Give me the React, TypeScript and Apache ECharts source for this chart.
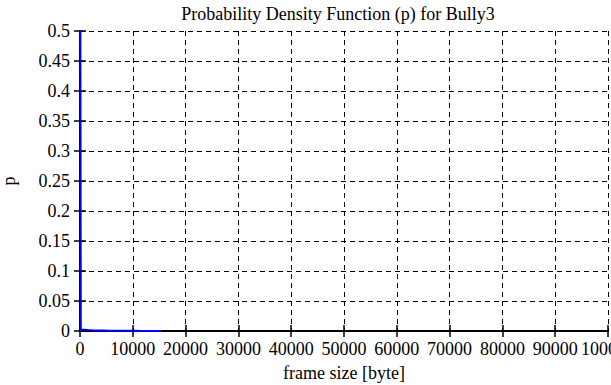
import React, { useEffect, useRef } from "react";
import * as echarts from "echarts";

const titleText = "Probability Density Function (p) for Bully3";
const xName = "frame size [byte]";
const yName = "p";
const frameSizes = [0, 150, 400, 800, 1500, 2500, 3500, 4500, 5500, 6500, 7500, 8500, 9500, 10500, 11500, 12500, 13500, 14500, 15500];
const pValues = [0.96, 0.003, 0.002, 0.002, 0.0015, 0.001, 0.001, 0.0008, 0.0006, 0.0005, 0.0004, 0.0004, 0.0003, 0.0003, 0.0002, 0.0002, 0.0001, 0.0001, 0.0001];

const FONT = "Liberation Serif";

export default function App() {
  const ref = useRef<HTMLDivElement>(null);
  useEffect(() => {
    document.body.style.margin = "0";
    const chart = echarts.init(ref.current!, null, { renderer: "svg" });
    const data = frameSizes.map((x, i) => [x, pValues[i]]);
    const gridLine = { show: true, lineStyle: { color: "#000", type: [5, 4] as any, width: 1 } };
    chart.setOption({
      animation: false,
      backgroundColor: "#fff",
      title: {
        text: titleText,
        left: 333,
        textAlign: "center",
        top: 0,
        textStyle: { fontFamily: FONT, fontSize: 18, fontWeight: "normal", color: "#000" },
      },
      grid: { left: 80, right: 3, top: 31, bottom: 54, containLabel: false, outerBoundsMode: "none" },
      xAxis: [
        {
          type: "value",
          min: 0,
          max: 100000,
          interval: 10000,
          name: xName,
          nameLocation: "middle",
          nameGap: 33,
          nameTextStyle: { fontFamily: FONT, fontSize: 18, color: "#000" },
          axisLine: { show: true, onZero: false, lineStyle: { color: "#000", width: 2 } },
          axisTick: { show: true, inside: true, length: 6, lineStyle: { color: "#000", width: 1.5 } },
          axisLabel: {
            fontFamily: FONT,
            fontSize: 18,
            color: "#000",
            margin: 9,
            showMaxLabel: true,
            showMinLabel: true,
            hideOverlap: false,
            interval: 0,
            formatter: (v: number) => String(v),
          },
          splitLine: gridLine,
        },
        {
          type: "value",
          position: "top",
          min: 0,
          max: 100000,
          interval: 10000,
          axisLine: { show: true, lineStyle: { color: "#000", width: 2 } },
          axisTick: { show: true, inside: true, length: 6, lineStyle: { color: "#000", width: 1.5 } },
          axisLabel: { show: false },
          splitLine: { show: false },
        },
      ],
      yAxis: [
        {
          type: "value",
          min: 0,
          max: 0.5,
          interval: 0.05,
          name: yName,
          nameLocation: "middle",
          nameGap: 62,
          nameTextStyle: { fontFamily: FONT, fontSize: 18, color: "#000" },
          axisLine: { show: true, onZero: false, lineStyle: { color: "#000", width: 2 } },
          axisTick: { show: true, inside: true, length: 6, lineStyle: { color: "#000", width: 1.5 } },
          axisLabel: {
            fontFamily: FONT,
            fontSize: 18,
            color: "#000",
            margin: 10,
            formatter: (v: number) => String(Math.round(v * 100) / 100),
          },
          splitLine: gridLine,
        },
        {
          type: "value",
          position: "right",
          min: 0,
          max: 0.5,
          interval: 0.05,
          axisLine: { show: true, lineStyle: { color: "#000", width: 2 } },
          axisTick: { show: true, inside: true, length: 6, lineStyle: { color: "#000", width: 1.5 } },
          axisLabel: { show: false },
          splitLine: { show: false },
        },
      ],
      series: [
        {
          type: "line",
          data,
          xAxisIndex: 0,
          yAxisIndex: 0,
          showSymbol: false,
          clip: true,
          lineStyle: { color: "#0000ff", width: 2 },
          z: 10,
        },
      ],
    });
    return () => chart.dispose();
  }, []);
  return <div ref={ref} style={{ width: 611, height: 385 }} />;
}
